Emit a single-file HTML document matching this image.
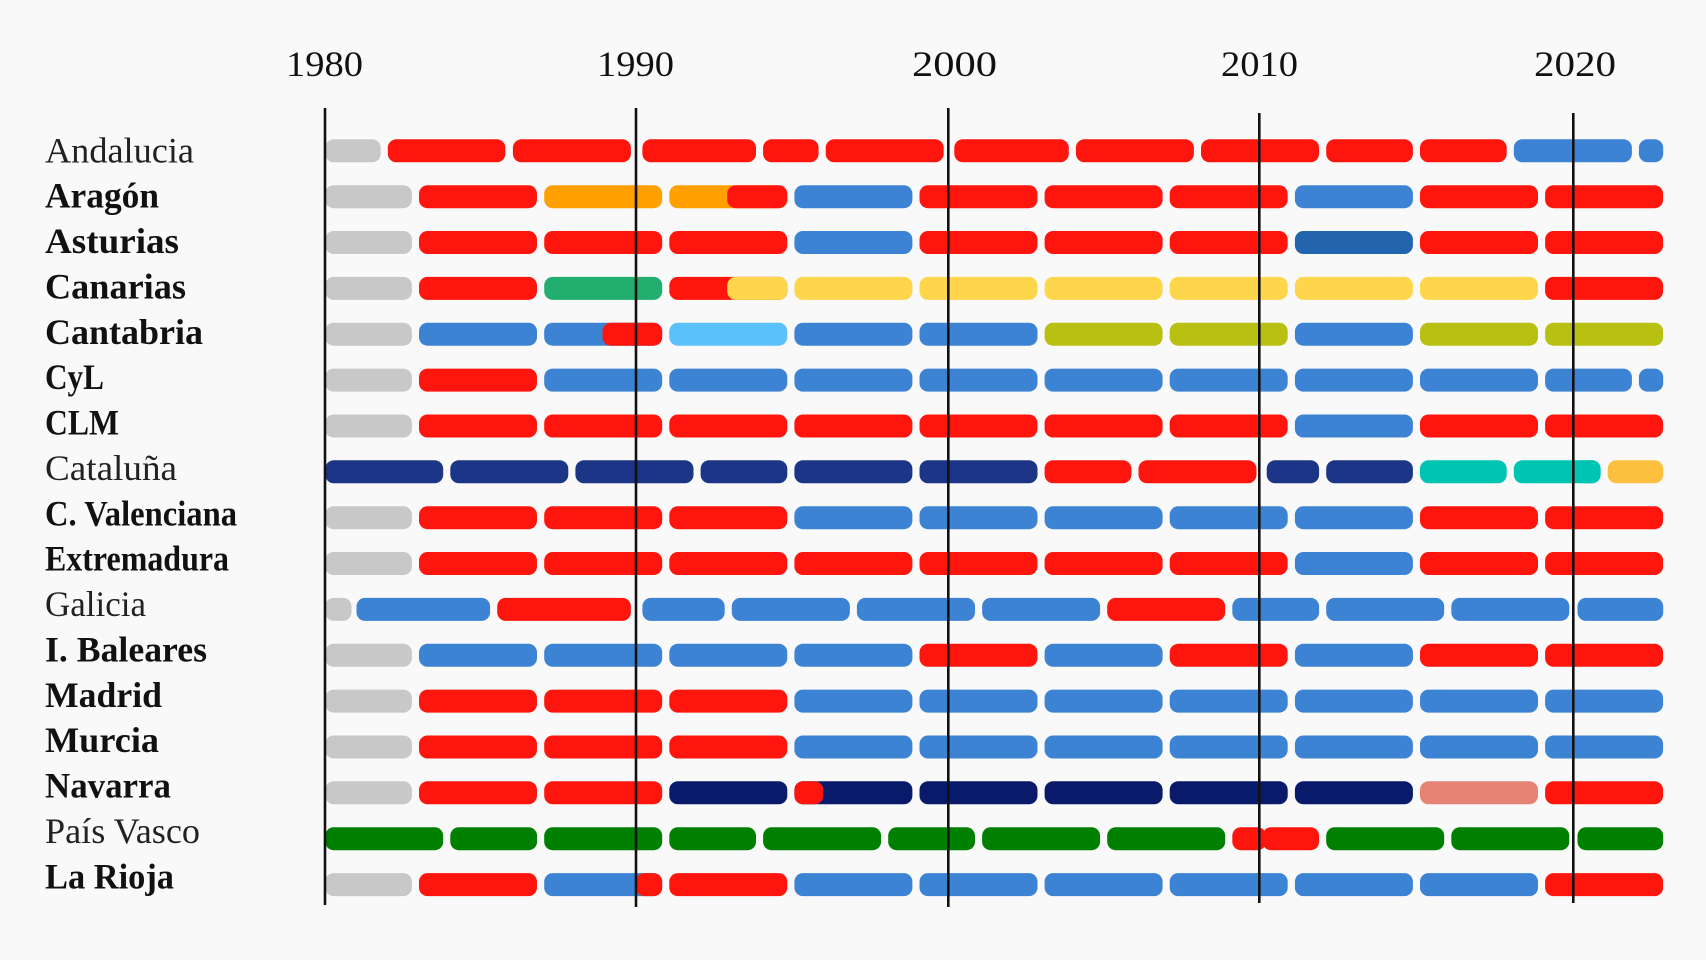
<!DOCTYPE html>
<html><head><meta charset="utf-8"><style>
html,body{margin:0;padding:0;background:#f9f9f9;}
svg{display:block;}
.yr{font-family:"Liberation Serif",serif;font-size:36px;fill:#111;}
.lb{font-family:"Liberation Serif",serif;font-size:36px;fill:#111;font-weight:bold;}
.lr{font-family:"Liberation Serif",serif;font-size:36px;fill:#222;font-weight:normal;}
</style></head><body>
<svg width="1706" height="960" viewBox="0 0 1706 960" xmlns="http://www.w3.org/2000/svg">
<rect x="0" y="0" width="1706" height="960" fill="#f9f9f9"/>
<!-- year labels -->
<text class="yr" x="286" y="76" textLength="77" lengthAdjust="spacingAndGlyphs">1980</text>
<text class="yr" x="597" y="76" textLength="77" lengthAdjust="spacingAndGlyphs">1990</text>
<text class="yr" x="912" y="76" textLength="85" lengthAdjust="spacingAndGlyphs">2000</text>
<text class="yr" x="1221" y="76" textLength="77" lengthAdjust="spacingAndGlyphs">2010</text>
<text class="yr" x="1534" y="76" textLength="82" lengthAdjust="spacingAndGlyphs">2020</text>
<!-- row labels -->
<text class="lr" x="45" y="162.3" textLength="149" lengthAdjust="spacingAndGlyphs">Andalucia</text>
<text class="lb" x="45" y="207.7" textLength="114" lengthAdjust="spacingAndGlyphs">Aragón</text>
<text class="lb" x="45" y="253" textLength="134" lengthAdjust="spacingAndGlyphs">Asturias</text>
<text class="lb" x="45" y="298.4" textLength="141" lengthAdjust="spacingAndGlyphs">Canarias</text>
<text class="lb" x="45" y="343.8" textLength="158" lengthAdjust="spacingAndGlyphs">Cantabria</text>
<text class="lb" x="45" y="389.2" textLength="59" lengthAdjust="spacingAndGlyphs">CyL</text>
<text class="lb" x="45" y="434.5" textLength="74" lengthAdjust="spacingAndGlyphs">CLM</text>
<text class="lr" x="45" y="479.9" textLength="132" lengthAdjust="spacingAndGlyphs">Cataluña</text>
<text class="lb" x="45" y="525.3" textLength="192" lengthAdjust="spacingAndGlyphs">C. Valenciana</text>
<text class="lb" x="45" y="570.7" textLength="184" lengthAdjust="spacingAndGlyphs">Extremadura</text>
<text class="lr" x="45" y="616" textLength="101" lengthAdjust="spacingAndGlyphs">Galicia</text>
<text class="lb" x="45" y="661.4" textLength="162" lengthAdjust="spacingAndGlyphs">I. Baleares</text>
<text class="lb" x="45" y="706.8" textLength="117" lengthAdjust="spacingAndGlyphs">Madrid</text>
<text class="lb" x="45" y="752.2" textLength="114" lengthAdjust="spacingAndGlyphs">Murcia</text>
<text class="lb" x="45" y="797.6" textLength="126" lengthAdjust="spacingAndGlyphs">Navarra</text>
<text class="lr" x="45" y="842.9" textLength="155" lengthAdjust="spacingAndGlyphs">País Vasco</text>
<text class="lb" x="45" y="888.3" textLength="129" lengthAdjust="spacingAndGlyphs">La Rioja</text>

<!-- Andalucia y=139.3 -->
<g transform="translate(0,139.3)">
<rect x="325.2" y="0" width="55.5" height="23" rx="8.5" fill="#c8c8c8"/>
<rect x="387.8" y="0" width="117.6" height="23" rx="8.5" fill="#fe160e"/>
<rect x="512.9" y="0" width="118" height="23" rx="8.5" fill="#fe160e"/>
<rect x="642.4" y="0" width="113.6" height="23" rx="8.5" fill="#fe160e"/>
<rect x="763.1" y="0" width="55.5" height="23" rx="8.5" fill="#fe160e"/>
<rect x="825.7" y="0" width="118" height="23" rx="8.5" fill="#fe160e"/>
<rect x="954.3" y="0" width="114.5" height="23" rx="8.5" fill="#fe160e"/>
<rect x="1075.9" y="0" width="118" height="23" rx="8.5" fill="#fe160e"/>
<rect x="1201" y="0" width="118.1" height="23" rx="8.5" fill="#fe160e"/>
<rect x="1326.2" y="0" width="86.7" height="23" rx="8.5" fill="#fe160e"/>
<rect x="1420" y="0" width="86.7" height="23" rx="8.5" fill="#fe160e"/>
<rect x="1513.8" y="0" width="118.1" height="23" rx="8.5" fill="#3d83d4"/>
<rect x="1638.9" y="0" width="24.3" height="23" rx="8.5" fill="#3d83d4"/>
</g>
<!-- Aragón -->
<g transform="translate(0,185.2)">
<rect x="325.2" y="0" width="86.7" height="23" rx="8.5" fill="#c8c8c8"/>
<rect x="419" y="0" width="118" height="23" rx="8.5" fill="#fe160e"/>
<rect x="544.2" y="0" width="118" height="23" rx="8.5" fill="#ffa000"/>
<rect x="669.3" y="0" width="118" height="23" rx="8.5" fill="#ffa000"/>
<rect x="727.2" y="0" width="60.1" height="23" rx="8.5" fill="#fe160e"/>
<rect x="794.4" y="0" width="118" height="23" rx="8.5" fill="#3d83d4"/>
<rect x="919.5" y="0" width="118" height="23" rx="8.5" fill="#fe160e"/>
<rect x="1044.6" y="0" width="118" height="23" rx="8.5" fill="#fe160e"/>
<rect x="1169.7" y="0" width="118" height="23" rx="8.5" fill="#fe160e"/>
<rect x="1294.9" y="0" width="118" height="23" rx="8.5" fill="#3d83d4"/>
<rect x="1420" y="0" width="118" height="23" rx="8.5" fill="#fe160e"/>
<rect x="1545.1" y="0" width="118" height="23" rx="8.5" fill="#fe160e"/>
</g>
<!-- Asturias -->
<g transform="translate(0,231)">
<rect x="325.2" y="0" width="86.7" height="23" rx="8.5" fill="#c8c8c8"/>
<rect x="419" y="0" width="118" height="23" rx="8.5" fill="#fe160e"/>
<rect x="544.2" y="0" width="118" height="23" rx="8.5" fill="#fe160e"/>
<rect x="669.3" y="0" width="118" height="23" rx="8.5" fill="#fe160e"/>
<rect x="794.4" y="0" width="118" height="23" rx="8.5" fill="#3d83d4"/>
<rect x="919.5" y="0" width="118" height="23" rx="8.5" fill="#fe160e"/>
<rect x="1044.6" y="0" width="118" height="23" rx="8.5" fill="#fe160e"/>
<rect x="1169.7" y="0" width="118" height="23" rx="8.5" fill="#fe160e"/>
<rect x="1294.9" y="0" width="118" height="23" rx="8.5" fill="#2265ae"/>
<rect x="1420" y="0" width="118" height="23" rx="8.5" fill="#fe160e"/>
<rect x="1545.1" y="0" width="118" height="23" rx="8.5" fill="#fe160e"/>
</g>
<!-- Canarias -->
<g transform="translate(0,276.9)">
<rect x="325.2" y="0" width="86.7" height="23" rx="8.5" fill="#c8c8c8"/>
<rect x="419" y="0" width="118" height="23" rx="8.5" fill="#fe160e"/>
<rect x="544.2" y="0" width="118" height="23" rx="8.5" fill="#21ae6e"/>
<rect x="669.3" y="0" width="118" height="23" rx="8.5" fill="#fe160e"/>
<rect x="727.2" y="0" width="60.1" height="23" rx="8.5" fill="#fdd64b"/>
<rect x="794.4" y="0" width="118" height="23" rx="8.5" fill="#fdd64b"/>
<rect x="919.5" y="0" width="118" height="23" rx="8.5" fill="#fdd64b"/>
<rect x="1044.6" y="0" width="118" height="23" rx="8.5" fill="#fdd64b"/>
<rect x="1169.7" y="0" width="118" height="23" rx="8.5" fill="#fdd64b"/>
<rect x="1294.9" y="0" width="118" height="23" rx="8.5" fill="#fdd64b"/>
<rect x="1420" y="0" width="118" height="23" rx="8.5" fill="#fdd64b"/>
<rect x="1545.1" y="0" width="118" height="23" rx="8.5" fill="#fe160e"/>
</g>
<!-- Cantabria -->
<g transform="translate(0,322.7)">
<rect x="325.2" y="0" width="86.7" height="23" rx="8.5" fill="#c8c8c8"/>
<rect x="419" y="0" width="118" height="23" rx="8.5" fill="#3d83d4"/>
<rect x="544.2" y="0" width="118" height="23" rx="8.5" fill="#3d83d4"/>
<rect x="602.5" y="0" width="59.7" height="23" rx="8.5" fill="#fe160e"/>
<rect x="669.3" y="0" width="118" height="23" rx="8.5" fill="#5bc1fb"/>
<rect x="794.4" y="0" width="118" height="23" rx="8.5" fill="#3d83d4"/>
<rect x="919.5" y="0" width="118" height="23" rx="8.5" fill="#3d83d4"/>
<rect x="1044.6" y="0" width="118" height="23" rx="8.5" fill="#b8c011"/>
<rect x="1169.7" y="0" width="118" height="23" rx="8.5" fill="#b8c011"/>
<rect x="1294.9" y="0" width="118" height="23" rx="8.5" fill="#3d83d4"/>
<rect x="1420" y="0" width="118" height="23" rx="8.5" fill="#b8c011"/>
<rect x="1545.1" y="0" width="118" height="23" rx="8.5" fill="#b8c011"/>
</g>
<!-- CyL -->
<g transform="translate(0,368.6)">
<rect x="325.2" y="0" width="86.7" height="23" rx="8.5" fill="#c8c8c8"/>
<rect x="419" y="0" width="118" height="23" rx="8.5" fill="#fe160e"/>
<rect x="544.2" y="0" width="118" height="23" rx="8.5" fill="#3d83d4"/>
<rect x="669.3" y="0" width="118" height="23" rx="8.5" fill="#3d83d4"/>
<rect x="794.4" y="0" width="118" height="23" rx="8.5" fill="#3d83d4"/>
<rect x="919.5" y="0" width="118" height="23" rx="8.5" fill="#3d83d4"/>
<rect x="1044.6" y="0" width="118" height="23" rx="8.5" fill="#3d83d4"/>
<rect x="1169.7" y="0" width="118" height="23" rx="8.5" fill="#3d83d4"/>
<rect x="1294.9" y="0" width="118" height="23" rx="8.5" fill="#3d83d4"/>
<rect x="1420" y="0" width="118" height="23" rx="8.5" fill="#3d83d4"/>
<rect x="1545.1" y="0" width="86.8" height="23" rx="8.5" fill="#3d83d4"/>
<rect x="1638.9" y="0" width="24.3" height="23" rx="8.5" fill="#3d83d4"/>
</g>
<!-- CLM -->
<g transform="translate(0,414.5)">
<rect x="325.2" y="0" width="86.7" height="23" rx="8.5" fill="#c8c8c8"/>
<rect x="419" y="0" width="118" height="23" rx="8.5" fill="#fe160e"/>
<rect x="544.2" y="0" width="118" height="23" rx="8.5" fill="#fe160e"/>
<rect x="669.3" y="0" width="118" height="23" rx="8.5" fill="#fe160e"/>
<rect x="794.4" y="0" width="118" height="23" rx="8.5" fill="#fe160e"/>
<rect x="919.5" y="0" width="118" height="23" rx="8.5" fill="#fe160e"/>
<rect x="1044.6" y="0" width="118" height="23" rx="8.5" fill="#fe160e"/>
<rect x="1169.7" y="0" width="118" height="23" rx="8.5" fill="#fe160e"/>
<rect x="1294.9" y="0" width="118" height="23" rx="8.5" fill="#3d83d4"/>
<rect x="1420" y="0" width="118" height="23" rx="8.5" fill="#fe160e"/>
<rect x="1545.1" y="0" width="118" height="23" rx="8.5" fill="#fe160e"/>
</g>
<!-- Cataluña -->
<g transform="translate(0,460.3)">
<rect x="325.2" y="0" width="118" height="23" rx="8.5" fill="#1c3587"/>
<rect x="450.3" y="0" width="118" height="23" rx="8.5" fill="#1c3587"/>
<rect x="575.4" y="0" width="118.1" height="23" rx="8.5" fill="#1c3587"/>
<rect x="700.6" y="0" width="86.7" height="23" rx="8.5" fill="#1c3587"/>
<rect x="794.4" y="0" width="118" height="23" rx="8.5" fill="#1c3587"/>
<rect x="919.5" y="0" width="118" height="23" rx="8.5" fill="#1c3587"/>
<rect x="1044.6" y="0" width="86.8" height="23" rx="8.5" fill="#fe160e"/>
<rect x="1138.5" y="0" width="118" height="23" rx="8.5" fill="#fe160e"/>
<rect x="1266.7" y="0" width="52.4" height="23" rx="8.5" fill="#1c3587"/>
<rect x="1326.2" y="0" width="86.7" height="23" rx="8.5" fill="#1c3587"/>
<rect x="1420" y="0" width="86.7" height="23" rx="8.5" fill="#00c4b2"/>
<rect x="1513.8" y="0" width="86.8" height="23" rx="8.5" fill="#00c4b2"/>
<rect x="1575" y="0" width="25.6" height="23" rx="8.5" fill="#00c4b2"/>
<rect x="1607.7" y="0" width="55.5" height="23" rx="8.5" fill="#fdbf3e"/>
</g>
<!-- C. Valenciana -->
<g transform="translate(0,506.2)">
<rect x="325.2" y="0" width="86.7" height="23" rx="8.5" fill="#c8c8c8"/>
<rect x="419" y="0" width="118" height="23" rx="8.5" fill="#fe160e"/>
<rect x="544.2" y="0" width="118" height="23" rx="8.5" fill="#fe160e"/>
<rect x="669.3" y="0" width="118" height="23" rx="8.5" fill="#fe160e"/>
<rect x="794.4" y="0" width="118" height="23" rx="8.5" fill="#3d83d4"/>
<rect x="919.5" y="0" width="118" height="23" rx="8.5" fill="#3d83d4"/>
<rect x="1044.6" y="0" width="118" height="23" rx="8.5" fill="#3d83d4"/>
<rect x="1169.7" y="0" width="118" height="23" rx="8.5" fill="#3d83d4"/>
<rect x="1294.9" y="0" width="118" height="23" rx="8.5" fill="#3d83d4"/>
<rect x="1420" y="0" width="118" height="23" rx="8.5" fill="#fe160e"/>
<rect x="1545.1" y="0" width="118" height="23" rx="8.5" fill="#fe160e"/>
</g>
<!-- Extremadura -->
<g transform="translate(0,552)">
<rect x="325.2" y="0" width="86.7" height="23" rx="8.5" fill="#c8c8c8"/>
<rect x="419" y="0" width="118" height="23" rx="8.5" fill="#fe160e"/>
<rect x="544.2" y="0" width="118" height="23" rx="8.5" fill="#fe160e"/>
<rect x="669.3" y="0" width="118" height="23" rx="8.5" fill="#fe160e"/>
<rect x="794.4" y="0" width="118" height="23" rx="8.5" fill="#fe160e"/>
<rect x="919.5" y="0" width="118" height="23" rx="8.5" fill="#fe160e"/>
<rect x="1044.6" y="0" width="118" height="23" rx="8.5" fill="#fe160e"/>
<rect x="1169.7" y="0" width="118" height="23" rx="8.5" fill="#fe160e"/>
<rect x="1294.9" y="0" width="118" height="23" rx="8.5" fill="#3d83d4"/>
<rect x="1420" y="0" width="118" height="23" rx="8.5" fill="#fe160e"/>
<rect x="1545.1" y="0" width="118" height="23" rx="8.5" fill="#fe160e"/>
</g>
<!-- Galicia -->
<g transform="translate(0,597.9)">
<rect x="325.2" y="0" width="26.3" height="23" rx="8.5" fill="#c8c8c8"/>
<rect x="356.5" y="0" width="133.6" height="23" rx="8.5" fill="#3d83d4"/>
<rect x="497.2" y="0" width="133.7" height="23" rx="8.5" fill="#fe160e"/>
<rect x="642.4" y="0" width="82.3" height="23" rx="8.5" fill="#3d83d4"/>
<rect x="731.8" y="0" width="118.1" height="23" rx="8.5" fill="#3d83d4"/>
<rect x="856.9" y="0" width="118.1" height="23" rx="8.5" fill="#3d83d4"/>
<rect x="982.1" y="0" width="118" height="23" rx="8.5" fill="#3d83d4"/>
<rect x="1107.2" y="0" width="118" height="23" rx="8.5" fill="#fe160e"/>
<rect x="1232.3" y="0" width="86.8" height="23" rx="8.5" fill="#3d83d4"/>
<rect x="1326.2" y="0" width="118" height="23" rx="8.5" fill="#3d83d4"/>
<rect x="1451.3" y="0" width="118" height="23" rx="8.5" fill="#3d83d4"/>
<rect x="1577.5" y="0" width="85.7" height="23" rx="8.5" fill="#3d83d4"/>
</g>
<!-- I. Baleares -->
<g transform="translate(0,643.8)">
<rect x="325.2" y="0" width="86.7" height="23" rx="8.5" fill="#c8c8c8"/>
<rect x="419" y="0" width="118" height="23" rx="8.5" fill="#3d83d4"/>
<rect x="544.2" y="0" width="118" height="23" rx="8.5" fill="#3d83d4"/>
<rect x="669.3" y="0" width="118" height="23" rx="8.5" fill="#3d83d4"/>
<rect x="794.4" y="0" width="118" height="23" rx="8.5" fill="#3d83d4"/>
<rect x="919.5" y="0" width="118" height="23" rx="8.5" fill="#fe160e"/>
<rect x="1044.6" y="0" width="118" height="23" rx="8.5" fill="#3d83d4"/>
<rect x="1169.7" y="0" width="118" height="23" rx="8.5" fill="#fe160e"/>
<rect x="1294.9" y="0" width="118" height="23" rx="8.5" fill="#3d83d4"/>
<rect x="1420" y="0" width="118" height="23" rx="8.5" fill="#fe160e"/>
<rect x="1545.1" y="0" width="118" height="23" rx="8.5" fill="#fe160e"/>
</g>
<!-- Madrid -->
<g transform="translate(0,689.6)">
<rect x="325.2" y="0" width="86.7" height="23" rx="8.5" fill="#c8c8c8"/>
<rect x="419" y="0" width="118" height="23" rx="8.5" fill="#fe160e"/>
<rect x="544.2" y="0" width="118" height="23" rx="8.5" fill="#fe160e"/>
<rect x="669.3" y="0" width="118" height="23" rx="8.5" fill="#fe160e"/>
<rect x="794.4" y="0" width="118" height="23" rx="8.5" fill="#3d83d4"/>
<rect x="919.5" y="0" width="118" height="23" rx="8.5" fill="#3d83d4"/>
<rect x="1044.6" y="0" width="118" height="23" rx="8.5" fill="#3d83d4"/>
<rect x="1169.7" y="0" width="118" height="23" rx="8.5" fill="#3d83d4"/>
<rect x="1294.9" y="0" width="118" height="23" rx="8.5" fill="#3d83d4"/>
<rect x="1420" y="0" width="118" height="23" rx="8.5" fill="#3d83d4"/>
<rect x="1545.1" y="0" width="118" height="23" rx="8.5" fill="#3d83d4"/>
</g>
<!-- Murcia -->
<g transform="translate(0,735.5)">
<rect x="325.2" y="0" width="86.7" height="23" rx="8.5" fill="#c8c8c8"/>
<rect x="419" y="0" width="118" height="23" rx="8.5" fill="#fe160e"/>
<rect x="544.2" y="0" width="118" height="23" rx="8.5" fill="#fe160e"/>
<rect x="669.3" y="0" width="118" height="23" rx="8.5" fill="#fe160e"/>
<rect x="794.4" y="0" width="118" height="23" rx="8.5" fill="#3d83d4"/>
<rect x="919.5" y="0" width="118" height="23" rx="8.5" fill="#3d83d4"/>
<rect x="1044.6" y="0" width="118" height="23" rx="8.5" fill="#3d83d4"/>
<rect x="1169.7" y="0" width="118" height="23" rx="8.5" fill="#3d83d4"/>
<rect x="1294.9" y="0" width="118" height="23" rx="8.5" fill="#3d83d4"/>
<rect x="1420" y="0" width="118" height="23" rx="8.5" fill="#3d83d4"/>
<rect x="1545.1" y="0" width="118" height="23" rx="8.5" fill="#3d83d4"/>
</g>
<!-- Navarra -->
<g transform="translate(0,781.3)">
<rect x="325.2" y="0" width="86.7" height="23" rx="8.5" fill="#c8c8c8"/>
<rect x="419" y="0" width="118" height="23" rx="8.5" fill="#fe160e"/>
<rect x="544.2" y="0" width="118" height="23" rx="8.5" fill="#fe160e"/>
<rect x="669.3" y="0" width="118" height="23" rx="8.5" fill="#0a1a6a"/>
<rect x="794.4" y="0" width="118" height="23" rx="8.5" fill="#0a1a6a"/>
<rect x="794.4" y="0" width="28.9" height="23" rx="8.5" fill="#fe160e"/>
<rect x="919.5" y="0" width="118" height="23" rx="8.5" fill="#0a1a6a"/>
<rect x="1044.6" y="0" width="118" height="23" rx="8.5" fill="#0a1a6a"/>
<rect x="1169.7" y="0" width="118" height="23" rx="8.5" fill="#0a1a6a"/>
<rect x="1294.9" y="0" width="118" height="23" rx="8.5" fill="#0a1a6a"/>
<rect x="1420" y="0" width="118" height="23" rx="8.5" fill="#e68374"/>
<rect x="1545.1" y="0" width="118" height="23" rx="8.5" fill="#fe160e"/>
</g>
<!-- País Vasco -->
<g transform="translate(0,827.2)">
<rect x="325.2" y="0" width="118" height="23" rx="8.5" fill="#008000"/>
<rect x="450.3" y="0" width="86.8" height="23" rx="8.5" fill="#008000"/>
<rect x="544.2" y="0" width="118" height="23" rx="8.5" fill="#008000"/>
<rect x="669.3" y="0" width="86.7" height="23" rx="8.5" fill="#008000"/>
<rect x="763.1" y="0" width="118" height="23" rx="8.5" fill="#008000"/>
<rect x="888.2" y="0" width="86.8" height="23" rx="8.5" fill="#008000"/>
<rect x="982.1" y="0" width="118" height="23" rx="8.5" fill="#008000"/>
<rect x="1107.2" y="0" width="118" height="23" rx="8.5" fill="#008000"/>
<rect x="1232.3" y="0" width="33.7" height="23" rx="8.5" fill="#fe160e"/>
<rect x="1262.5" y="0" width="56.6" height="23" rx="8.5" fill="#fe160e"/>
<rect x="1326.2" y="0" width="118" height="23" rx="8.5" fill="#008000"/>
<rect x="1451.3" y="0" width="118" height="23" rx="8.5" fill="#008000"/>
<rect x="1577.5" y="0" width="85.7" height="23" rx="8.5" fill="#008000"/>
</g>
<!-- La Rioja -->
<g transform="translate(0,873.1)">
<rect x="325.2" y="0" width="86.7" height="23" rx="8.5" fill="#c8c8c8"/>
<rect x="419" y="0" width="118" height="23" rx="8.5" fill="#fe160e"/>
<rect x="544.2" y="0" width="118" height="23" rx="8.5" fill="#3d83d4"/>
<rect x="636" y="0" width="26.2" height="23" rx="8.5" fill="#fe160e"/>
<rect x="669.3" y="0" width="118" height="23" rx="8.5" fill="#fe160e"/>
<rect x="794.4" y="0" width="118" height="23" rx="8.5" fill="#3d83d4"/>
<rect x="919.5" y="0" width="118" height="23" rx="8.5" fill="#3d83d4"/>
<rect x="1044.6" y="0" width="118" height="23" rx="8.5" fill="#3d83d4"/>
<rect x="1169.7" y="0" width="118" height="23" rx="8.5" fill="#3d83d4"/>
<rect x="1294.9" y="0" width="118" height="23" rx="8.5" fill="#3d83d4"/>
<rect x="1420" y="0" width="118" height="23" rx="8.5" fill="#3d83d4"/>
<rect x="1545.1" y="0" width="118" height="23" rx="8.5" fill="#fe160e"/>
</g>

<!-- decade lines -->
<g stroke="#111" stroke-width="2.6">
<line x1="325" y1="108" x2="325" y2="905"/>
<line x1="636" y1="108" x2="636" y2="907"/>
<line x1="948.3" y1="108" x2="948.3" y2="907"/>
<line x1="1259.3" y1="113" x2="1259.3" y2="903"/>
<line x1="1573.3" y1="113" x2="1573.3" y2="903"/>
</g>
</svg>
</body></html>
